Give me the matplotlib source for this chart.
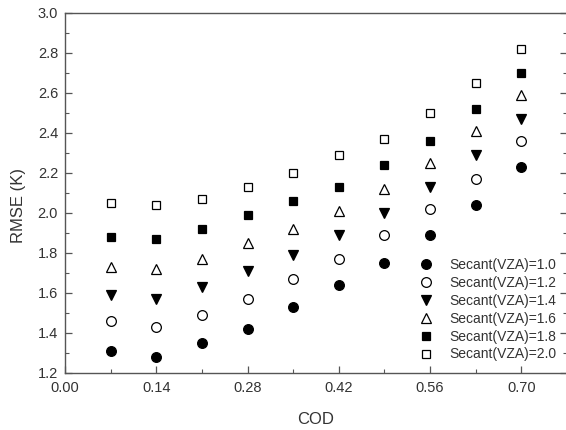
import matplotlib
matplotlib.use("Agg")
import matplotlib.pyplot as plt
from matplotlib.ticker import MultipleLocator

plt.rcParams["font.family"] = ["Liberation Sans", "DejaVu Sans"]

cod = [0.07, 0.14, 0.21, 0.28, 0.35, 0.42, 0.49, 0.56, 0.63, 0.70]

rmse_10 = [1.31, 1.28, 1.35, 1.42, 1.53, 1.64, 1.75, 1.89, 2.04, 2.23]
rmse_12 = [1.46, 1.43, 1.49, 1.57, 1.67, 1.77, 1.89, 2.02, 2.17, 2.36]
rmse_14 = [1.59, 1.57, 1.63, 1.71, 1.79, 1.89, 2.00, 2.13, 2.29, 2.47]
rmse_16 = [1.73, 1.72, 1.77, 1.85, 1.92, 2.01, 2.12, 2.25, 2.41, 2.59]
rmse_18 = [1.88, 1.87, 1.92, 1.99, 2.06, 2.13, 2.24, 2.36, 2.52, 2.70]
rmse_20 = [2.05, 2.04, 2.07, 2.13, 2.20, 2.29, 2.37, 2.50, 2.65, 2.82]

labels = ["Secant(VZA)=1.0", "Secant(VZA)=1.2", "Secant(VZA)=1.4",
          "Secant(VZA)=1.6", "Secant(VZA)=1.8", "Secant(VZA)=2.0"]

txt = "#333333"
fig = plt.figure(figsize=(5.66, 4.30), dpi=100)
ax = fig.add_axes([65 / 566, 57 / 430, 502 / 566, 360 / 430])

# marker, face, size
styles = [
    ("o", "black", 7),
    ("o", "white", 7),
    ("v", "black", 7),
    ("^", "white", 7),
    ("s", "black", 5.5),
    ("s", "white", 5.5),
]
series = [rmse_10, rmse_12, rmse_14, rmse_16, rmse_18, rmse_20]

for vals, lab, (m, fc, ms) in zip(series, labels, styles):
    ax.plot(cod, vals, linestyle="none", marker=m, markersize=ms,
            markerfacecolor=fc, markeredgecolor="black", markeredgewidth=0.9,
            label=lab)

ax.set_xlim(0, 0.77)
ax.set_ylim(1.2, 3.0)
ax.xaxis.set_major_locator(MultipleLocator(0.14))
ax.xaxis.set_minor_locator(MultipleLocator(0.07))
ax.yaxis.set_major_locator(MultipleLocator(0.2))
ax.yaxis.set_minor_locator(MultipleLocator(0.1))
ax.xaxis.set_major_formatter(plt.FormatStrFormatter("%.2f"))
ax.yaxis.set_major_formatter(plt.FormatStrFormatter("%.1f"))

ax.tick_params(which="both", direction="in", top=False, right=True,
               colors="#555555", labelcolor=txt, labelsize=10.5)
ax.tick_params(which="major", length=5, width=0.9)
ax.tick_params(which="minor", length=3, width=0.8)
ax.tick_params(axis="x", pad=6)
ax.tick_params(axis="y", pad=5)
for sp in ax.spines.values():
    sp.set_color("#555555")
    sp.set_linewidth(1.0)

ax.set_xlabel("COD", fontsize=12, color=txt)
ax.set_ylabel("RMSE (K)", fontsize=12, color=txt)
ax.xaxis.set_label_coords(0.5, -0.108)
ax.yaxis.set_label_coords(-0.078, 0.464)

leg = ax.legend(loc="upper left", bbox_to_anchor=(419 / 566, (430 - 258) / 430),
                bbox_transform=fig.transFigure, frameon=False, fontsize=10,
                borderpad=0, handlelength=1.0, handletextpad=1.15,
                labelspacing=0.28, borderaxespad=0)
for t in leg.get_texts():
    t.set_color(txt)

fig.savefig("out.png", dpi=100)
